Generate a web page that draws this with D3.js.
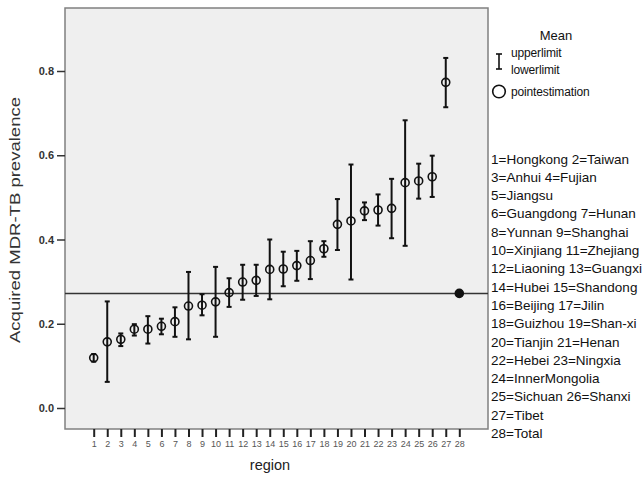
<!DOCTYPE html>
<html>
<head>
<meta charset="utf-8">
<script src="https://cdn.jsdelivr.net/npm/d3@7"></script>
<style>
  body { margin: 0; background: #fff; }
  svg { display: block; font-family: "Liberation Sans", Arial, sans-serif; }
</style>
</head>
<body>
<div id="container"></div>
<script>
// region codes 1..28 (28 = Total)
const regions = [1, 2, 3, 4, 5, 6, 7, 8, 9, 10, 11, 12, 13, 14, 15, 16, 17, 18, 19, 20, 21, 22, 23, 24, 25, 26, 27, 28];
const pointEst = [0.119, 0.157, 0.163, 0.187, 0.187, 0.194, 0.205, 0.242, 0.244, 0.252, 0.274, 0.299, 0.303, 0.329,
                  0.330, 0.338, 0.350, 0.378, 0.436, 0.444, 0.468, 0.470, 0.474, 0.535, 0.539, 0.549, 0.773, 0.272];
const lowerLim = [0.110, 0.062, 0.147, 0.172, 0.153, 0.175, 0.169, 0.163, 0.220, 0.169, 0.240, 0.257, 0.266, 0.258,
                  0.289, 0.302, 0.306, 0.359, 0.375, 0.305, 0.446, 0.433, 0.403, 0.385, 0.497, 0.501, 0.714, 0.268];
const upperLim = [0.128, 0.253, 0.177, 0.199, 0.218, 0.212, 0.239, 0.323, 0.270, 0.335, 0.308, 0.340, 0.340, 0.400,
                  0.371, 0.373, 0.396, 0.396, 0.496, 0.578, 0.488, 0.507, 0.544, 0.683, 0.580, 0.599, 0.831, 0.276];
const totalMean = 0.272;
const yTicks = [0.0, 0.2, 0.4, 0.6, 0.8];

const legendTitle = "Mean";
const legendItems = ["upperlimit", "lowerlimit", "pointestimation"];
const regionKey = [
    "1=Hongkong 2=Taiwan",
    "3=Anhui 4=Fujian",
    "5=Jiangsu",
    "6=Guangdong 7=Hunan",
    "8=Yunnan 9=Shanghai",
    "10=Xinjiang 11=Zhejiang",
    "12=Liaoning 13=Guangxi",
    "14=Hubei 15=Shandong",
    "16=Beijing 17=Jilin",
    "18=Guizhou 19=Shan-xi",
    "20=Tianjin 21=Henan",
    "22=Hebei 23=Ningxia",
    "24=InnerMongolia",
    "25=Sichuan 26=Shanxi",
    "27=Tibet",
    "28=Total"
];

const w = 644, h = 477;
const frame = {left: 65, top: 8, right: 488, bottom: 429};

const data = regions.map((r, i) => ({
    region: r,
    est: pointEst[i],
    lo: lowerLim[i],
    hi: upperLim[i]
}));

const xScale = d3.scaleLinear()
    .domain([-1.12, 30.12])
    .range([frame.left, frame.right]);

const yScale = d3.scaleLinear()
    .domain([0, 0.8])
    .range([408, 71]);

let svg = d3.select("#container")
    .append("svg")
    .attr("width", w)
    .attr("height", h);

// plot frame
svg.append("rect")
    .attr("x", frame.left)
    .attr("y", frame.top)
    .attr("width", frame.right - frame.left)
    .attr("height", frame.bottom - frame.top)
    .attr("fill", "#efefef")
    .attr("stroke", "#808080")
    .attr("stroke-width", 1.5);

// y axis
const yAxis = svg.append("g")
    .attr("transform", "translate(" + frame.left + ",0)")
    .call(d3.axisLeft(yScale).tickValues(yTicks).tickFormat(d3.format(".1f")).tickSize(8).tickPadding(3));
yAxis.select(".domain").remove();
yAxis.selectAll(".tick line").attr("stroke", "#333").attr("stroke-width", 1.5);
yAxis.selectAll(".tick text")
    .attr("fill", "#333")
    .style("font-size", "11px")
    .style("font-weight", "bold")
    .style("font-family", "'Liberation Sans', Arial, sans-serif");

// x axis
const xAxis = svg.append("g")
    .attr("transform", "translate(0," + frame.bottom + ")")
    .call(d3.axisBottom(xScale).tickValues(regions).tickFormat(d3.format("d")).tickSize(8).tickPadding(4));
xAxis.select(".domain").remove();
xAxis.selectAll(".tick line").attr("stroke", "#222").attr("stroke-width", 2);
xAxis.selectAll(".tick text")
    .attr("fill", "#555")
    .style("font-size", "9px")
    .style("font-family", "'Liberation Sans', Arial, sans-serif");

// axis titles
svg.append("text")
    .attr("transform", "translate(20," + 220 + ") rotate(-90)")
    .attr("text-anchor", "middle")
    .attr("fill", "#333")
    .attr("textLength", 246)
    .attr("lengthAdjust", "spacingAndGlyphs")
    .style("font-size", "15px")
    .text("Acquired MDR-TB prevalence");

svg.append("text")
    .attr("x", 270)
    .attr("y", 470)
    .attr("text-anchor", "middle")
    .attr("fill", "#222")
    .style("font-size", "14.5px")
    .text("region");

// reference line at the total mean
svg.append("line")
    .attr("x1", frame.left)
    .attr("x2", frame.right)
    .attr("y1", yScale(totalMean))
    .attr("y2", yScale(totalMean))
    .attr("stroke", "#333")
    .attr("stroke-width", 1.5);

// error bars
const bars = svg.append("g").attr("class", "errorbars");
bars.selectAll("line.bar")
    .data(data)
    .enter()
    .append("line")
    .attr("class", "bar")
    .attr("x1", (d) => xScale(d.region))
    .attr("x2", (d) => xScale(d.region))
    .attr("y1", (d) => yScale(d.lo))
    .attr("y2", (d) => yScale(d.hi))
    .attr("stroke", "#111")
    .attr("stroke-width", 2);

["lo", "hi"].forEach((k) => {
    bars.selectAll("line.cap-" + k)
        .data(data)
        .enter()
        .append("line")
        .attr("class", "cap-" + k)
        .attr("x1", (d) => xScale(d.region) - 2.5)
        .attr("x2", (d) => xScale(d.region) + 2.5)
        .attr("y1", (d) => yScale(d[k]))
        .attr("y2", (d) => yScale(d[k]))
        .attr("stroke", "#111")
        .attr("stroke-width", 2);
});

bars.selectAll("circle")
    .data(data)
    .enter()
    .append("circle")
    .attr("cx", (d) => xScale(d.region))
    .attr("cy", (d) => yScale(d.est))
    .attr("r", 4)
    .attr("fill", (d) => d.region === 28 ? "#111" : "none")
    .attr("stroke", "#111")
    .attr("stroke-width", 1.6);

// legend
let legend = svg.append("g").attr("id", "legend");

legend.append("text")
    .attr("x", 556)
    .attr("y", 40)
    .attr("text-anchor", "middle")
    .attr("fill", "#111")
    .style("font-size", "13px")
    .text(legendTitle);

// error bar glyph
legend.append("line")
    .attr("x1", 499).attr("x2", 499)
    .attr("y1", 54).attr("y2", 69)
    .attr("stroke", "#111").attr("stroke-width", 1.6);
[54, 69].forEach((yy) => {
    legend.append("line")
        .attr("x1", 496).attr("x2", 502)
        .attr("y1", yy).attr("y2", yy)
        .attr("stroke", "#111").attr("stroke-width", 1.6);
});
legend.append("circle")
    .attr("cx", 499).attr("cy", 91.5).attr("r", 6.3)
    .attr("fill", "none").attr("stroke", "#111").attr("stroke-width", 1.6);

legend.selectAll("text.item")
    .data(legendItems)
    .enter()
    .append("text")
    .attr("class", "item")
    .attr("x", 511)
    .attr("y", (d, n) => [57, 74, 96][n])
    .attr("fill", "#111")
    .style("font-size", "12px")
    .style("letter-spacing", "-0.15px")
    .text((d) => d);

legend.selectAll("text.key")
    .data(regionKey)
    .enter()
    .append("text")
    .attr("class", "key")
    .attr("x", 491)
    .attr("y", (d, n) => 163.5 + n * 18.3)
    .attr("fill", "#111")
    .style("font-size", "13.5px")
    .text((d) => d);
</script>
</body>
</html>
